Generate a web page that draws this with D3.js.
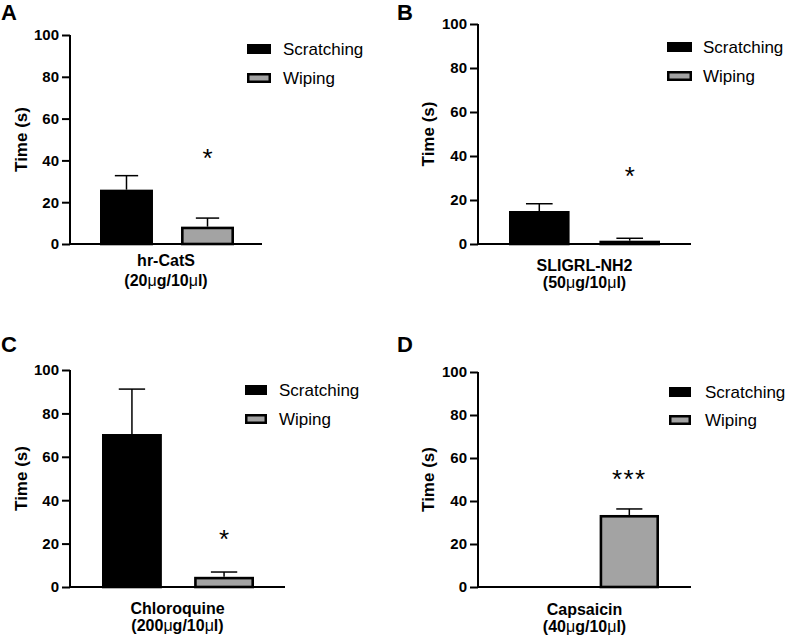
<!DOCTYPE html>
<html>
<head>
<meta charset="utf-8">
<script src="https://cdn.jsdelivr.net/npm/d3@7"></script>
<style>
  html, body { margin: 0; padding: 0; background: #fff; }
  svg { display: block; font-family: "Liberation Sans", Arial, sans-serif; }
</style>
</head>
<body>
<svg id="chart" width="787" height="637"></svg>
<script>
// ---- data ----
const panelLetters = ["A", "B", "C", "D"];
const series = ["Scratching", "Wiping"];
const agentNames = ["hr-CatS", "SLIGRL-NH2", "Chloroquine", "Capsaicin"];
const doseAmounts = ["20", "50", "200", "40"]; // µg per 10 µl
const scratchingMeans = [26, 15, 70.5, 0];
const scratchingErrTop = [32.7, 18.3, 91.2, null];
const wipingMeans = [8.3, 1.5, 4.7, 33.5];
const wipingErrTop = [12.4, 2.6, 6.9, 36.3];
const significance = ["*", "*", "*", "***"];
const significanceY = [44, 33.6, 25, 53];
const yTicks = [0, 20, 40, 60, 80, 100];
const yTitle = "Time (s)";

// ---- layout (pixels) ----
const layouts = [
  { letterX: 1, letterY: 20, axisX: 70, y0: 244, y100: 35, axisEnd: 262, bars: [100, 234], pad: 0.346,
    titleX: 21, legRect: [247, 44, 24, 10], legDy: 29, legTextX: 283, lab1: 266, lab2: 286 },
  { letterX: 397, letterY: 20, axisX: 478, y0: 244, y100: 24, axisEnd: 691, bars: [509, 660], pad: 0.33,
    titleX: 428, legRect: [667, 42, 25, 10], legDy: 29, legTextX: 703, lab1: 271, lab2: 288 },
  { letterX: 1, letterY: 352, axisX: 70, y0: 587, y100: 370, axisEnd: 285, bars: [102, 254], pad: 0.35,
    titleX: 21, legRect: [245, 385, 22, 10], legDy: 29, legTextX: 279, lab1: 614, lab2: 631 },
  { letterX: 397, letterY: 352, axisX: 478, y0: 587, y100: 372, axisEnd: 691, bars: [511, 659], pad: 0.33,
    titleX: 428, legRect: [669, 387, 22, 10], legDy: 28, legTextX: 705, lab1: 615, lab2: 632 }
];

const fills = { Scratching: "#000000", Wiping: "#a3a3a3" };
const svg = d3.select("#chart");

layouts.forEach((L, i) => {
  const g = svg.append("g");
  const y = d3.scaleLinear().domain([0, 100]).range([L.y0, L.y100]);
  const x = d3.scaleBand().domain(series).range(L.bars).paddingInner(L.pad).paddingOuter(0);

  // panel letter
  g.append("text").attr("x", L.letterX).attr("y", L.letterY)
    .attr("font-size", 22).attr("font-weight", "bold").text(panelLetters[i]);

  // bars
  const rows = [
    { s: "Scratching", v: scratchingMeans[i], e: scratchingErrTop[i] },
    { s: "Wiping", v: wipingMeans[i], e: wipingErrTop[i] }
  ];
  const sw = 2.6;
  rows.forEach(r => {
    if (r.e != null) {
      const cx = x(r.s) + x.bandwidth() / 2;
      const cw = x.bandwidth() * 0.44;
      g.append("line").attr("x1", cx).attr("x2", cx).attr("y1", y(r.v)).attr("y2", y(r.e))
        .attr("stroke", "#000").attr("stroke-width", 1.5);
      g.append("line").attr("x1", cx - cw / 2).attr("x2", cx + cw / 2).attr("y1", y(r.e)).attr("y2", y(r.e))
        .attr("stroke", "#000").attr("stroke-width", 1.5);
    }
    if (r.v > 0) {
      g.append("rect")
        .attr("x", x(r.s) + sw / 2).attr("y", y(r.v) + sw / 2)
        .attr("width", x.bandwidth() - sw).attr("height", Math.max(0, y(0) - y(r.v) - sw / 2))
        .attr("fill", fills[r.s]).attr("stroke", "#000").attr("stroke-width", sw);
    }
  });

  // significance
  const wc = x("Wiping") + x.bandwidth() / 2;
  g.append("text").attr("x", wc).attr("y", y(significanceY[i]) + 15)
    .attr("text-anchor", "middle").attr("font-size", 26)
    .attr("letter-spacing", significance[i].length > 1 ? 1.5 : 0)
    .text(significance[i]);

  // y axis
  const yAxis = d3.axisLeft(y).tickValues(yTicks).tickSize(8).tickPadding(3);
  const ya = g.append("g").attr("transform", `translate(${L.axisX},0)`).call(yAxis);
  ya.select(".domain").attr("stroke-width", 2).attr("d", `M0,${L.y100}V${L.y0}`);
  ya.selectAll(".tick line").attr("stroke-width", 2);
  ya.selectAll(".tick text").attr("font-size", 15).attr("font-weight", "bold")
    .attr("font-family", "Liberation Sans, Arial, sans-serif").attr("fill", "#000");

  // x axis baseline
  g.append("line").attr("x1", L.axisX - 1).attr("x2", L.axisEnd).attr("y1", L.y0).attr("y2", L.y0)
    .attr("stroke", "#000").attr("stroke-width", 2);

  // y title
  g.append("text")
    .attr("transform", `translate(${L.titleX + 6},${(L.y0 + L.y100) / 2}) rotate(-90)`)
    .attr("text-anchor", "middle").attr("font-size", 17).attr("font-weight", "bold")
    .text(yTitle);

  // x labels
  const mid = (L.axisX + L.axisEnd) / 2;
  g.append("text").attr("x", mid).attr("y", L.lab1).attr("text-anchor", "middle")
    .attr("font-size", 16).attr("font-weight", "bold").text(agentNames[i]);
  const t2 = g.append("text").attr("x", mid).attr("y", L.lab2).attr("text-anchor", "middle")
    .attr("font-size", 16).attr("font-weight", "bold");
  t2.append("tspan").text("(" + doseAmounts[i]);
  t2.append("tspan").attr("font-weight", "normal").text("\u03bc");
  t2.append("tspan").text("g/10");
  t2.append("tspan").attr("font-weight", "normal").text("\u03bc");
  t2.append("tspan").text("l)");

  // legend
  series.forEach((s, k) => {
    const [rx, ry, rw, rh] = L.legRect;
    const yy = ry + k * L.legDy;
    g.append("rect").attr("x", rx + 1.25).attr("y", yy + 1.25).attr("width", rw - 2.5).attr("height", rh - 2.5)
      .attr("fill", fills[s]).attr("stroke", "#000").attr("stroke-width", 2.5);
    g.append("text").attr("x", L.legTextX).attr("y", yy + rh / 2 + 6)
      .attr("font-size", 17).text(s);
  });
});
</script>
</body>
</html>
